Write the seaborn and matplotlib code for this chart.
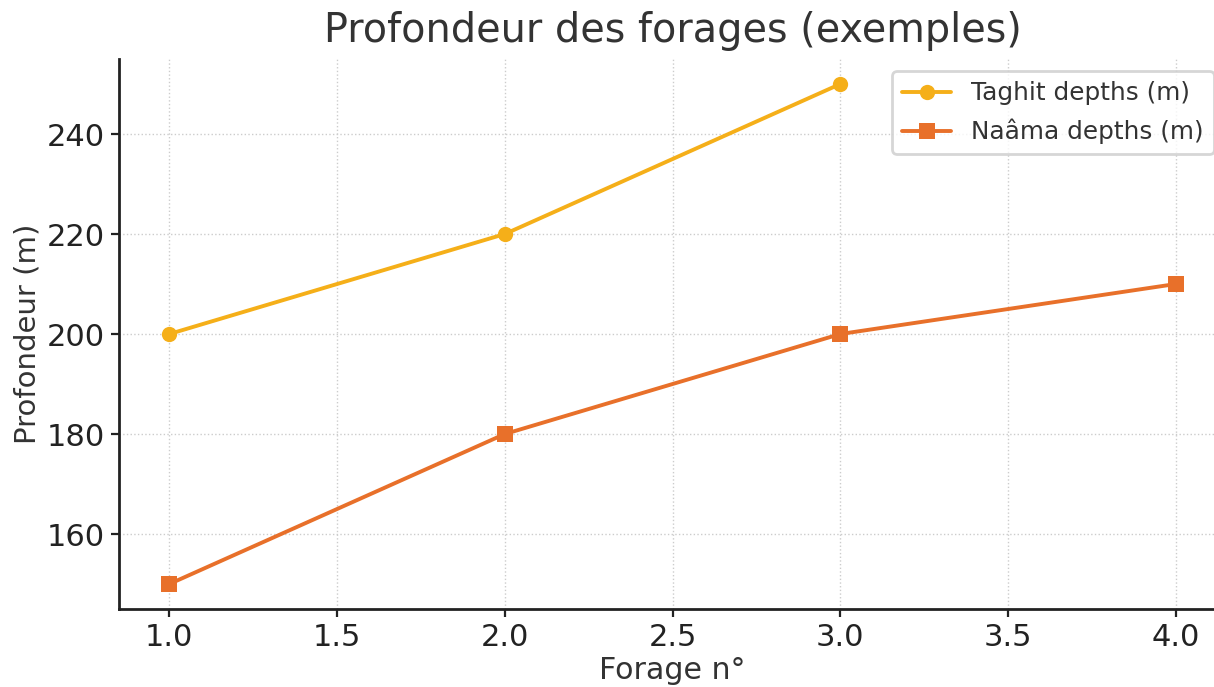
import numpy as np
import pandas as pd
import matplotlib
matplotlib.use("Agg")
import matplotlib.pyplot as plt
import seaborn as sns

# depths
taghit_forage = [1, 2, 3]
taghit_depth = [200, 220, 250]
naama_forage = [1, 2, 3, 4]
naama_depth = [150, 180, 200, 210]

df = pd.concat([
    pd.DataFrame({'forage': taghit_forage, 'depth': taghit_depth, 'serie': 'Taghit depths (m)'}),
    pd.DataFrame({'forage': naama_forage, 'depth': naama_depth, 'serie': 'Naâma depths (m)'}),
])

sns.set_style('white')
plt.rcParams['font.family'] = ['DejaVu Sans']

fig = plt.figure(figsize=(6.07, 3.435), dpi=200)
# right edge of the axes sits a little past the picture, like the cropped original
ax = fig.add_axes([0.098, 0.1135, 0.912, 0.8006])
sns.lineplot(data=df, x='forage', y='depth', hue='serie', style='serie',
             markers=['o', 's'], dashes=False, markersize=5.5, linewidth=1.4,
             markeredgewidth=0,
             palette=['#F5AF19', '#E8702A'], ax=ax)

ax.set_xlim(0.85, 4.15)
ax.set_ylim(145, 255)
ax.set_title('Profondeur des forages (exemples)', fontsize=14.3, color='#333333', pad=6)
ax.set_xlabel('Forage n°', fontsize=10.8, color='#333333', labelpad=1.5)
ax.set_ylabel('Profondeur (m)', fontsize=10.5, color='#333333', labelpad=2)
ax.set_xticks(np.arange(1.0, 4.01, 0.5))
ax.set_yticks([160, 180, 200, 220, 240])
ax.tick_params(axis='both', labelsize=11, length=3, width=0.8, direction='out',
               pad=2, colors='#222222', bottom=True, left=True)
ax.grid(True, linestyle=':', linewidth=0.5, color='#cccccc')
sns.despine(ax=ax)
for s in ['left', 'bottom']:
    ax.spines[s].set_linewidth(1.0)
    ax.spines[s].set_color('#222222')
leg = ax.legend(title=None, fontsize=8.9, loc='upper right', frameon=True,
                borderaxespad=0.5, labelspacing=0.55)
for t in leg.get_texts():
    t.set_color('#333333')

fig.savefig('out.png', dpi=200)
